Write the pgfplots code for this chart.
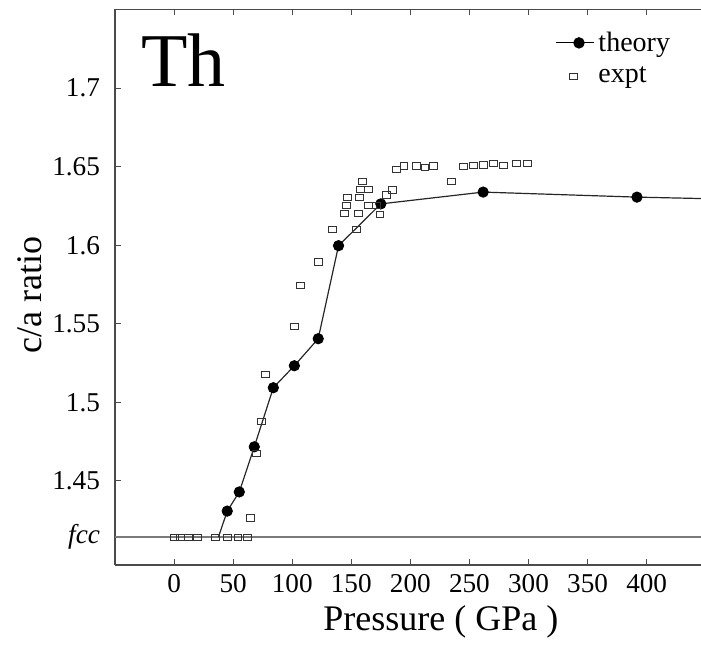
\documentclass[border=0pt]{standalone}
\usepackage{fontspec}
\setmainfont{Liberation Serif}
\usepackage{pgfplots}
\pgfplotsset{compat=1.18}
\definecolor{axline}{HTML}{4A4A4A}
\definecolor{fccline}{HTML}{7A7A7A}
\pgfplotsset{
  theorylegend/.style={legend image code/.code={%
    \draw[mark repeat=2,mark phase=2,##1] plot coordinates {(0pt,0pt) (11.5pt,0pt) (19pt,0pt)};}},
}

\begin{document}
\begin{tikzpicture}
\begin{axis}[
  name=ax, at={(0,0)}, anchor=south west,
  scale only axis, width=293pt, height=277.75pt,
  xmin=-50, xmax=446, ymin=1.3965, ymax=1.75,
  axis x line*=box, axis y line*=left,
  axis line style={axline, line width=0.6pt, -},
  tick style={axline, line width=0.5pt},
  tick align=inside, major tick length=3pt,
  xtick={0,50,...,400},
  ytick={1.41421,1.45,1.5,1.55,1.6,1.65,1.7},
  yticklabels={\textit{fcc},1.45,1.5,1.55,1.6,1.65,1.7},
  /pgf/number format/assume math mode=true,
  ticklabel style={font=\fontsize{13.6}{16}\selectfont},
  xticklabel style={yshift=-1pt},
  yticklabel style={xshift=-4pt},
  xlabel={Pressure ( GPa )},
  xlabel style={font=\fontsize{18}{20}\selectfont, at={(axis description cs:0.556,-0.103)}, anchor=center},
  ylabel={c/a ratio},
  ylabel style={font=\fontsize{18}{20}\selectfont, at={(axis description cs:-0.146,0.486)}, anchor=center},
  legend style={at={(axis description cs:0.751,0.968)}, anchor=north west, draw=none, fill=none,
    font=\fontsize{14}{16}\selectfont, inner sep=0pt, row sep=2.5pt,
    cells={anchor=west}},
  legend cell align=left,
  clip=false,
]
\addlegendimage{black, line width=0.5pt, mark=*, mark size=2.6pt, theorylegend}
\addlegendentry{theory}
\addlegendimage{only marks, mark=square, mark size=1.8pt, black!80, line width=0.4pt,
  mark options={xscale=1.1, yscale=0.85}}
\addlegendentry{expt}

% fcc reference line
\addplot[fccline, line width=0.8pt, forget plot] coordinates {(-50,1.41421) (446,1.41421)};

% theory curve
\addplot[black!85, line width=0.6pt, forget plot] coordinates {
  (37.5,1.41421) (45,1.4308) (55.2,1.443) (67.9,1.4717) (84,1.5093) (101.8,1.5233)
  (122,1.5405) (139.2,1.5997) (175,1.6263) (261.6,1.6338) (391.8,1.6306) (446,1.6297)};
\addplot[only marks, mark=*, mark size=2.6pt, black, forget plot] coordinates {
  (45,1.4308) (55.2,1.443) (67.9,1.4717) (84,1.5093) (101.8,1.5233)
  (122,1.5405) (139.2,1.5997) (175,1.6263) (261.6,1.6338) (391.8,1.6306)};

% experiment
\addplot[only marks, mark=square, mark size=1.8pt, black!80, line width=0.4pt,
  mark options={xscale=1.1, yscale=0.85}, forget plot] coordinates {
  (0,1.41421) (5,1.41421) (12,1.41421) (20,1.41421) (35,1.41421) (45,1.41421)
  (54,1.41421) (62,1.41421)
  (64.8,1.4265) (69.3,1.4675) (73.6,1.488) (77.5,1.518) (101.5,1.5486) (107.1,1.5743)
  (122,1.5894) (134.2,1.61) (154.5,1.61) (144,1.6204) (155.9,1.6204) (146,1.6255)
  (146.6,1.6303) (156.7,1.6306) (164.3,1.6357) (157.9,1.6357) (159.3,1.6405)
  (164.3,1.6255) (171.4,1.6255) (174.2,1.6197) (179.9,1.632) (184.6,1.6352)
  (188.3,1.648) (194.5,1.6505) (205.2,1.6505) (212.3,1.6494) (219.3,1.6505)
  (234.8,1.6405) (244.7,1.65) (253.1,1.6507) (261.6,1.6511) (270,1.6518)
  (279,1.6507) (289.8,1.6522) (299,1.6522)};

\node[anchor=base west, inner sep=0pt, font=\fontsize{38}{40}\selectfont]
  at (axis description cs:0.044,0.861) {Th};
\end{axis}
\pgfresetboundingbox
\path (-57.5pt,-41pt) rectangle (293pt,282.5pt);
\end{tikzpicture}
\end{document}
